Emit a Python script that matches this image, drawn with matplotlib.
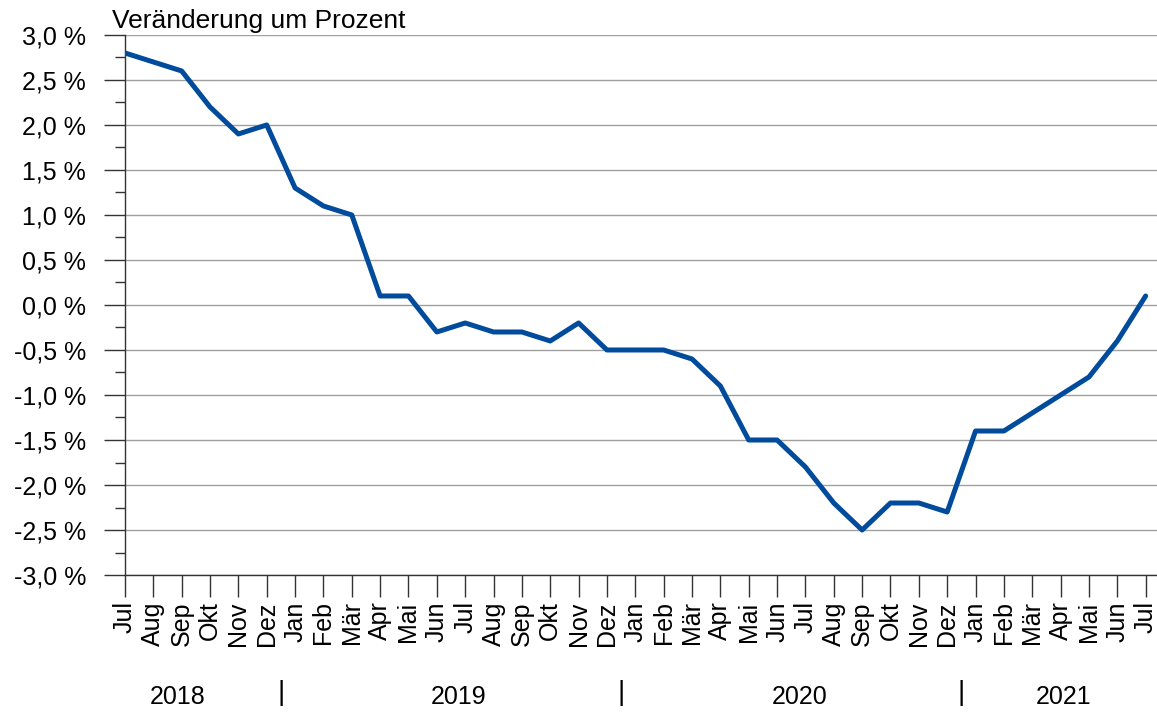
import matplotlib.pyplot as plt
import numpy as np

plt.rcParams['font.family'] = ['Liberation Sans', 'DejaVu Sans']

# Monthly labels, Jul 2018 .. Jul 2021
months = ['Jul', 'Aug', 'Sep', 'Okt', 'Nov', 'Dez',
          'Jan', 'Feb', 'Mär', 'Apr', 'Mai', 'Jun', 'Jul', 'Aug', 'Sep', 'Okt', 'Nov', 'Dez',
          'Jan', 'Feb', 'Mär', 'Apr', 'Mai', 'Jun', 'Jul', 'Aug', 'Sep', 'Okt', 'Nov', 'Dez',
          'Jan', 'Feb', 'Mär', 'Apr', 'Mai', 'Jun', 'Jul']

# Change in percent
values = [2.8, 2.7, 2.6, 2.2, 1.9, 2.0,
          1.3, 1.1, 1.0, 0.1, 0.1, -0.3, -0.2, -0.3, -0.3, -0.4, -0.2, -0.5,
          -0.5, -0.5, -0.6, -0.9, -1.5, -1.5, -1.8, -2.2, -2.5, -2.2, -2.2, -2.3,
          -1.4, -1.4, -1.2, -1.0, -0.8, -0.4, 0.1]

years = ['2018', '2019', '2020', '2021']
year_pos = [1.87, 11.75, 23.8, 33.1]
sep_pos = [5.5, 17.5, 29.5]

x = np.arange(len(values))

fig = plt.figure(figsize=(11.57, 7.12), dpi=100)
ax = fig.add_axes([0.108, 0.1924, 0.892, 0.7585])

ax.plot(x, values, color='#004b9b', linewidth=3.6, solid_joinstyle='round',
        solid_capstyle='round', zorder=3)

# Axes limits and ticks
ax.set_xlim(0, 36.4)
ax.set_ylim(-3.0, 3.0)
yt = np.arange(-3.0, 3.01, 0.5)
ax.set_yticks(yt)
ax.set_yticklabels([('%.1f %%' % v).replace('.', ',') for v in yt], fontsize=18)
ax.set_yticks(np.arange(-2.75, 3.0, 0.5), minor=True)
ax.set_xticks(x)
ax.set_xticklabels(months, rotation=90, fontsize=18, va='top')

ax.tick_params(axis='y', which='major', length=15, width=1, color='#333333', pad=13)
ax.tick_params(axis='y', which='minor', length=7, width=1, color='#333333')
ax.tick_params(axis='x', which='major', length=16, width=1, color='#333333', pad=3)

# Grid
ax.grid(axis='y', which='major', color='#a0a0a0', linewidth=1)
ax.set_axisbelow(True)

for side in ['top', 'right']:
    ax.spines[side].set_visible(False)
for side in ['left', 'bottom']:
    ax.spines[side].set_color('#333333')
    ax.spines[side].set_linewidth(1)

# Title
fig.text(112 / 1157, 1 - 28 / 712, 'Veränderung um Prozent', fontsize=19, ha='left', va='baseline')

# Year labels and separators
trans = ax.get_xaxis_transform()
for yr, p in zip(years, year_pos):
    ax.text(p, -0.225, yr, transform=trans, fontsize=18, ha='center', va='center')
for p in sep_pos:
    ax.text(p, -0.218, '|', transform=trans, fontsize=20, ha='center', va='center')

fig.savefig('out.png', dpi=100)
